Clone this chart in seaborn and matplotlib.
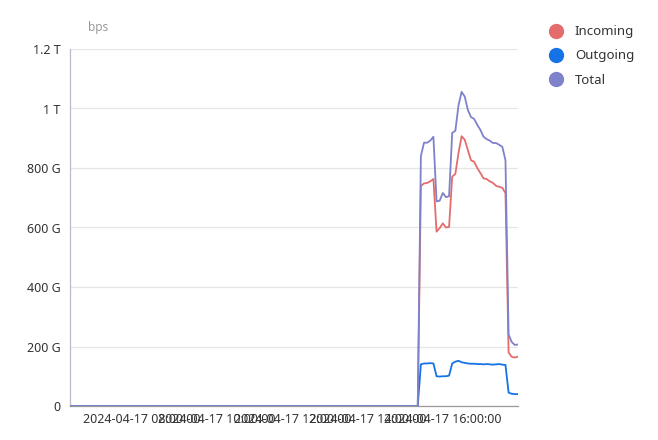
import matplotlib
matplotlib.use("Agg")
import matplotlib.pyplot as plt
from matplotlib.lines import Line2D
from matplotlib.ticker import FixedLocator
import seaborn as sns
import pandas as pd

# ---- data (values in Gbps) ----
times = ["06:05", "15:20",
         "15:25", "15:30", "15:35", "15:40", "15:45", "15:50", "15:55", "16:00",
         "16:05", "16:10", "16:15", "16:20", "16:25", "16:30", "16:35", "16:40",
         "16:45", "16:50", "16:55", "17:00", "17:05", "17:10", "17:15", "17:20",
         "17:25", "17:30", "17:35", "17:40", "17:45", "17:50", "17:55", "18:00"]
incoming = [0, 0,
            740, 748, 750, 755, 763, 586, 598, 614,
            600, 602, 771, 780, 850, 907, 895, 860,
            826, 821, 800, 783, 765, 763, 755, 750,
            740, 737, 733, 716, 180, 165, 163, 166]
outgoing = [0, 0,
            140, 143, 143, 144, 143, 100, 99, 100,
            100, 102, 143, 149, 152, 147, 145, 143,
            142, 142, 141, 141, 140, 141, 140, 139,
            140, 141, 139, 138, 45, 41, 40, 40]
total = [0, 0,
         840, 885, 885, 892, 905, 688, 690, 716,
         702, 705, 918, 925, 1010, 1056, 1040, 995,
         971, 965, 945, 928, 905, 897, 892, 884,
         884, 878, 871, 826, 240, 215, 205, 207]
series_names = ["Incoming", "Outgoing", "Total"]
colors = ["#E46C6C", "#1573E5", "#7E82CA"]
xtick_hours = [8, 10, 12, 14, 16]
xtick_labels = ["2024-04-17 08:00:00", "2024-04-17 10:00:00", "2024-04-17 12:00:00",
                "2024-04-17 14:00:00", "2024-04-17 16:00:00"]
ytick_vals = [0, 200, 400, 600, 800, 1000, 1200]
ytick_labels = ["0", "200 G", "400 G", "600 G", "800 G", "1 T", "1.2 T"]

def to_hours(t):
    h, m = t.split(":")
    return int(h) + int(m) / 60.0

hours = [to_hours(t) for t in times]
frames = []
for name, vals in zip(series_names, [incoming, outgoing, total]):
    frames.append(pd.DataFrame({"hour": hours, "value": vals, "series": name}))
df = pd.concat(frames, ignore_index=True)

sns.set_theme(style="white")
plt.rcParams["font.family"] = ["Noto Sans", "DejaVu Sans"]

fig = plt.figure(figsize=(6.58, 4.40), dpi=100)
ax = fig.add_axes([70 / 658, (440 - 406) / 440, (518 - 70) / 658, (406 - 49) / 440])

sns.lineplot(data=df, x="hour", y="value", hue="series", hue_order=series_names,
             palette=colors, linewidth=1.3, ax=ax, legend=False, zorder=3)

ax.set_xlim(hours[0], hours[-1])
ax.set_ylim(0, 1200)
ax.xaxis.set_major_locator(FixedLocator(xtick_hours))
ax.set_xticklabels(xtick_labels)
ax.yaxis.set_major_locator(FixedLocator(ytick_vals))
ax.set_yticklabels(ytick_labels)
ax.set_xlabel("")
ax.set_ylabel("")

ax.grid(axis="y", color="#E6E6E6", linewidth=0.9)
ax.grid(axis="x", visible=False)
ax.set_axisbelow(True)
for s in ["top", "right"]:
    ax.spines[s].set_visible(False)
ax.spines["left"].set_color("#B8BCCC")
ax.spines["left"].set_linewidth(0.9)
ax.spines["bottom"].set_color("#9A9A9A")
ax.spines["bottom"].set_linewidth(0.9)
ax.tick_params(axis="both", length=0, labelsize=9, labelcolor="#333333")
ax.tick_params(axis="y", pad=7)
ax.tick_params(axis="x", pad=5)

fig.text(98 / 658, 1 - 27 / 440, "bps", fontsize=8.5, color="#9A9A9A",
         ha="center", va="center")

handles = [Line2D([0], [0], marker="o", linestyle="none", markersize=10,
                  markerfacecolor=c, markeredgecolor=c) for c in colors]
fig.legend(handles, series_names, loc="upper left", bbox_to_anchor=(538 / 658, 1 - 20 / 440),
           frameon=False, fontsize=9.5, labelcolor="#333333", handletextpad=0.4,
           labelspacing=0.85, borderaxespad=0)

fig.savefig("out.png", dpi=100)
